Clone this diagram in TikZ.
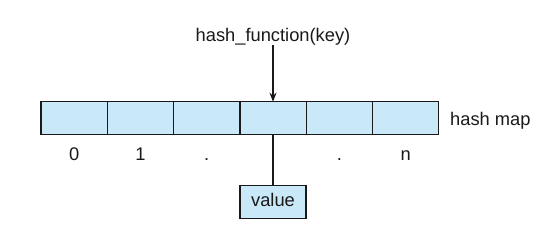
\documentclass[tikz,border=0pt]{standalone}
\usepackage{fontspec}
\setmainfont{Liberation Sans}
\usetikzlibrary{arrows.meta}
\definecolor{cellblue}{RGB}{201,232,248}
\definecolor{ink}{RGB}{25,25,25}
\begin{document}
\begin{tikzpicture}[x=1pt,y=-1pt,
  cell/.style={draw=ink,fill=cellblue,line width=1.2pt,minimum width=66.3pt,minimum height=32.6pt,inner sep=0pt,outer sep=0pt},
  lbl/.style={font=\fontsize{18.3}{20}\selectfont,text=ink,inner sep=0pt},
  conn/.style={draw=ink,line width=1.4pt}]
\useasboundingbox (0,0) rectangle (550,237);
\foreach \i in {0,...,5} {
  \node[cell] (c\i) at ({41+66.3*\i+33.15},118) {};
}
\node[lbl,anchor=base] (hf) at (273,42) {hash\_function(key)};
\node[lbl,anchor=base west] (hm) at (450,126) {hash map};
\node[lbl,anchor=base] (l0) at (c0.center |- 0,161) {0};
\node[lbl,anchor=base] (l1) at (c1.center |- 0,161) {1};
\node[lbl,anchor=base] (l2) at (c2.center |- 0,161) {.};
\node[lbl,anchor=base] (l4) at (c4.center |- 0,161) {.};
\node[lbl,anchor=base] (l5) at (c5.center |- 0,161) {n};
\node[cell,minimum width=66pt,minimum height=32.6pt] (val) at (273,202) {};
\node[lbl,anchor=base] (vt) at (273,207) {value};
\coordinate (top) at (273,45);
\coordinate (hit) at (273,101.7);
\coordinate (bot) at (273,134.3);
\draw[conn,-{Stealth[length=9pt,width=7pt]}] (top) -- (hit);
\draw[conn] (bot) -- (val.north);
\end{tikzpicture}
\end{document}
